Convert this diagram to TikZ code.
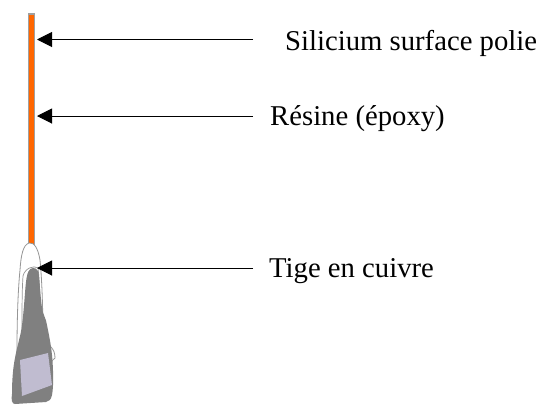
\documentclass[tikz,border=0pt]{standalone}
\usepackage{fontspec}
\setmainfont{Liberation Serif}
\usetikzlibrary{arrows.meta}
\definecolor{rodorange}{RGB}{255,102,0}
\definecolor{rodedge}{RGB}{160,160,160}
\definecolor{holdergrey}{RGB}{128,128,128}
\definecolor{holderline}{RGB}{150,150,150}
\definecolor{lavender}{RGB}{192,188,208}
\tikzset{
  label text/.style={anchor=base west, inner sep=0pt, font=\fontsize{28.7}{34}\selectfont},
  pointer/.style={draw=black, line width=1pt, -{Triangle[length=15pt,width=15pt]}},
}
\begin{document}
\begin{tikzpicture}[x=1pt,y=-1pt]
\useasboundingbox (0,0) rectangle (545,405);
\fill[white] (0,0) rectangle (545,405);

% polished silicon sample on its epoxy rod
\fill[rodedge] (28,13) rectangle (35,250);
\fill[rodorange] (29,15) rectangle (34,250);

% copper holder: outer sleeve
\filldraw[fill=white, draw=holderline, line width=0.8pt]
  (17,350) .. controls (17,320) and (18,290) .. (20,270)
  .. controls (21,255) and (23,245) .. (29,243)
  .. controls (34,242) and (38,248) .. (40,260)
  .. controls (42,280) and (43,310) .. (43,342)
  -- (51,347) .. controls (54,350) and (55,354) .. (55,358)
  -- (40,372) -- (17,372) -- cycle;
% inner contour of the sleeve
\draw[holderline, line width=0.7pt]
  (22,332) .. controls (22,310) and (22,290) .. (23,276)
  .. controls (25,268) and (34,265) .. (38,268)
  .. controls (40,285) and (40,300) .. (40,312);

% copper stem
\fill[holdergrey]
  (33,268) .. controls (37,268) and (39,271) .. (39,277)
  .. controls (40,290) and (41,300) .. (42,308)
  .. controls (43,315) and (46,318) .. (47,325)
  .. controls (49,335) and (51,345) .. (52,355)
  .. controls (53,365) and (54,385) .. (52,395)
  .. controls (51,400) and (49,401) .. (46,402)
  -- (15,404) .. controls (12,404) and (11,400) .. (12,394)
  .. controls (12,380) and (13,368) .. (15,358)
  .. controls (17,346) and (21,335) .. (22,325)
  .. controls (24,310) and (25,290) .. (26,282)
  .. controls (27,273) and (29,268) .. (33,268) -- cycle;
% mounting plate
\fill[lavender] (20,360) -- (48,353) -- (52,385) -- (22,396) -- cycle;

% labels
\node[label text] (si) at (285,50) {Silicium surface polie};
\node[label text] (resin) at (270,125) {Résine (époxy)};
\node[label text] (stem) at (269,277) {Tige en cuivre};

% pointer ends
\coordinate (si-from) at (253,39.5);
\coordinate (si-to) at (37,39.5);
\coordinate (resin-from) at (253,116);
\coordinate (resin-to) at (37,116);
\coordinate (stem-from) at (253,268);
\coordinate (stem-to) at (37,268);

\draw[pointer] (si-from) -- (si-to);
\draw[pointer] (resin-from) -- (resin-to);
\draw[pointer] (stem-from) -- (stem-to);
\end{tikzpicture}
\end{document}
